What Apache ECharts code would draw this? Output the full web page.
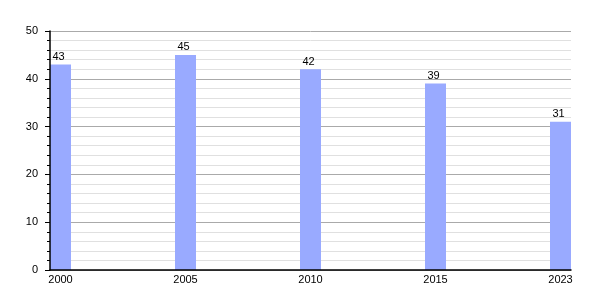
<!DOCTYPE html>
<html><head><meta charset="utf-8">
<script src="https://cdn.jsdelivr.net/npm/echarts@6/dist/echarts.min.js"></script>
<style>html,body{margin:0;padding:0;background:#fff}#c{width:600px;height:300px}</style>
</head><body><div id="c"></div>
<script>
const years = ['2000', '2005', '2010', '2015', '2023'];
const values = [43, 45, 42, 39, 31];
const yTicks = [0, 10, 20, 30, 40, 50];

const chart = echarts.init(document.getElementById('c'), null, {renderer: 'canvas'});
const font = 'Liberation Sans, Arial, sans-serif';
const step = 125, barW = 21;
const pad = (barW / 2) / step;
chart.setOption({
  animation: false,
  grid: {left: 50, right: 29, top: 31, bottom: 30, containLabel: false},
  xAxis: {
    type: 'value', min: -pad, max: years.length - 1 + pad,
    axisLine: {show: true, onZero: false, lineStyle: {color: '#000', width: 1.5}},
    axisTick: {show: false},
    splitLine: {show: false},
    axisLabel: {
      customValues: years.map((y, i) => i),
      formatter: v => years[Math.round(v)],
      color: '#000', fontFamily: font, fontSize: 11, margin: 4
    },
    z: 10
  },
  yAxis: [{
    type: 'value', min: 0, max: 50, interval: 10,
    axisLine: {show: false},
    axisTick: {show: false},
    axisLabel: {show: false},
    splitLine: {show: true, lineStyle: {color: '#aaa', width: 1}},
    minorTick: {show: false, splitNumber: 5},
    minorSplitLine: {show: true, lineStyle: {color: '#e0e0e0', width: 1}}
  }, {
    type: 'value', min: 0, max: 50, interval: 10, position: 'left',
    axisLine: {show: true, onZero: false, lineStyle: {color: '#000', width: 1.5}},
    axisTick: {show: true, length: 5, lineStyle: {color: '#000'}},
    minorTick: {show: true, splitNumber: 5, length: 3, lineStyle: {color: '#000'}},
    splitLine: {show: false},
    minorSplitLine: {show: false},
    axisLabel: {color: '#000', fontFamily: font, fontSize: 11, margin: 12,
      customValues: yTicks},
    z: 10
  }],
  series: [{
    type: 'bar',
    yAxisIndex: 0,
    data: values.map((v, i) => [i, v]),
    barWidth: barW,
    itemStyle: {color: '#99aaff'},
    label: {show: true, position: 'top', distance: 2, offset: [-2, 0],
      color: '#000', fontFamily: font, fontSize: 11}
  }]
});
</script></body></html>
